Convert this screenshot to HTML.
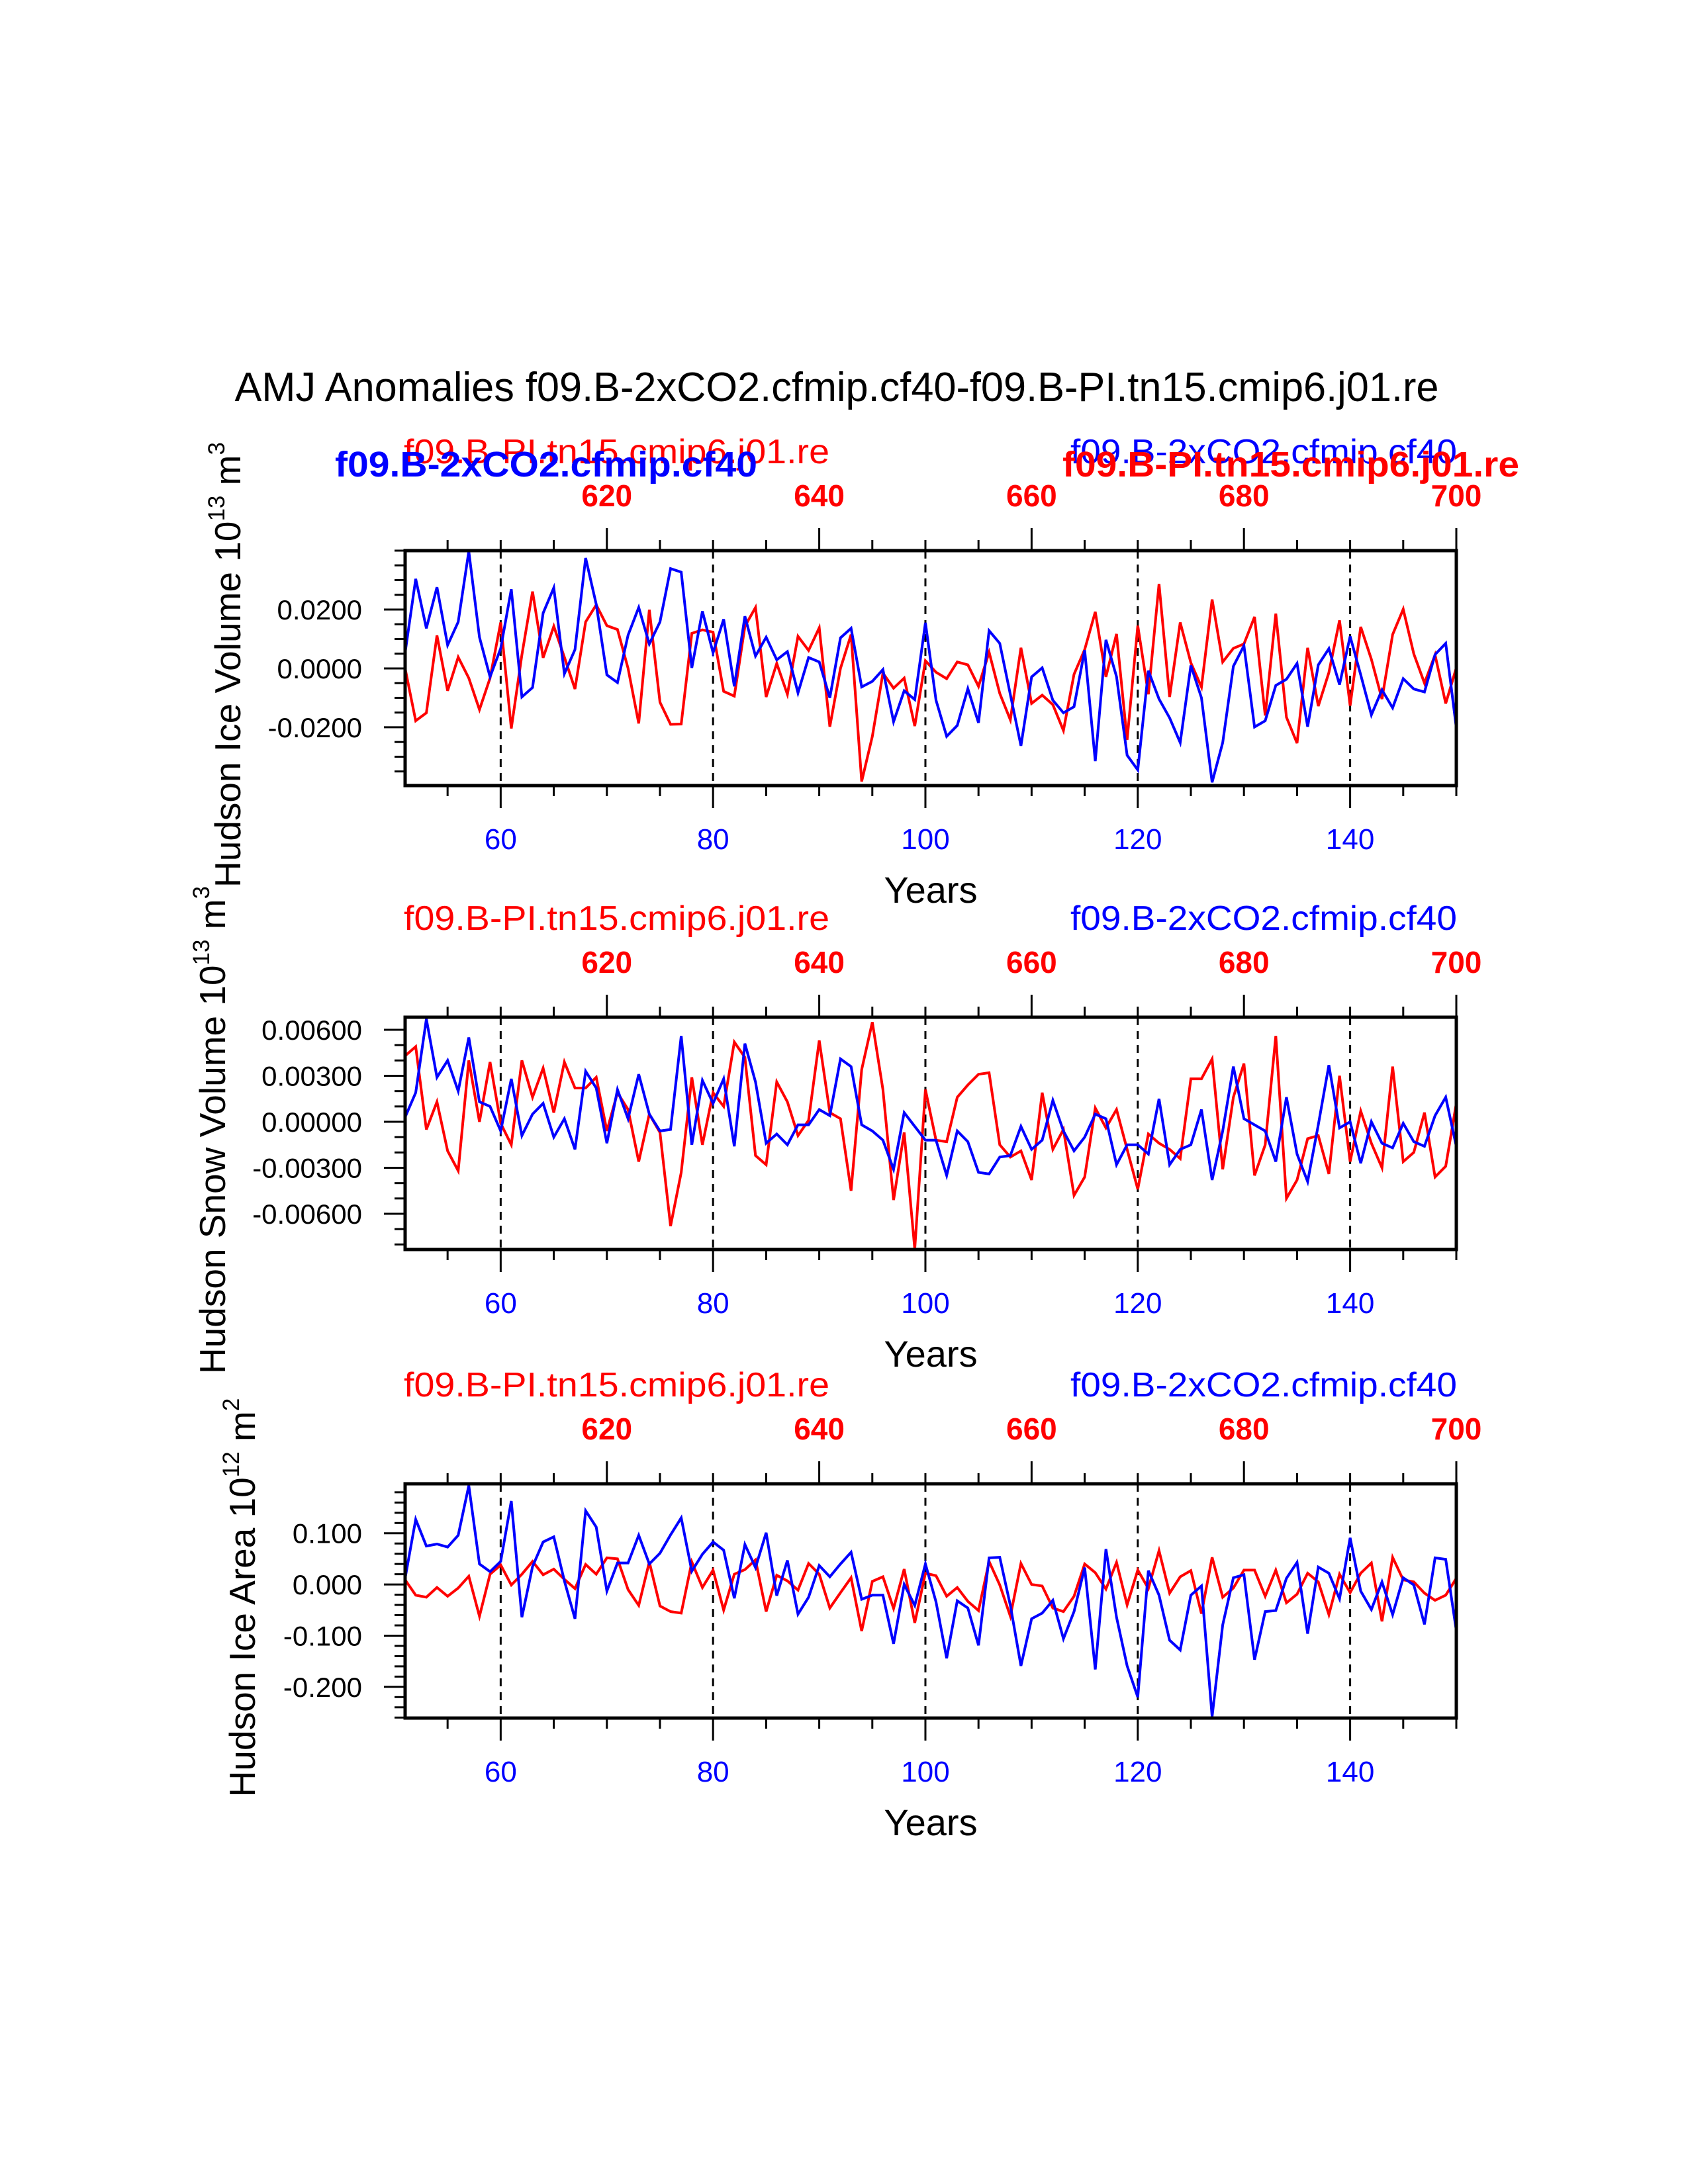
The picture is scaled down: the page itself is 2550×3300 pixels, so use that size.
<!DOCTYPE html>
<html><head><meta charset="utf-8"><title>AMJ Anomalies</title>
<style>html,body{margin:0;padding:0;background:#fff}svg{display:block}text{font-family:"Liberation Sans",Arial,sans-serif}</style>
</head><body>
<svg id="chart" xmlns="http://www.w3.org/2000/svg" width="2550" height="3300" viewBox="0 0 2550 3300">
<rect x="0" y="0" width="2550" height="3300" fill="#fff"/>
<text x="1264" y="606" font-size="62" text-anchor="middle" textLength="1819" lengthAdjust="spacingAndGlyphs">AMJ Anomalies f09.B-2xCO2.cfmip.cf40-f09.B-PI.tn15.cmip6.j01.re</text>
</svg>
<script>
const years = [];
for (let y = 51; y <= 150; y++) years.push(y);
const bottomTickLabels = ["60","80","100","120","140"];
const topTickLabels = ["620","640","660","680","700"];
const iceVolBlue = [0.0053,0.0304,0.0136,0.0276,0.0079,0.0158,0.0398,0.0106,-0.0029,0.0068,
0.0269,-0.0097,-0.0065,0.0188,0.0274,-0.0018,0.0064,0.0375,0.0218,-0.0022,
-0.0048,0.0113,0.0207,0.0083,0.0158,0.0339,0.0327,0.0002,0.0194,0.0053,
0.0167,-0.0061,0.0177,0.0042,0.0106,0.0029,0.0057,-0.0083,0.0037,0.0022,
-0.0100,0.0104,0.0136,-0.0063,-0.0044,-0.0004,-0.0181,-0.0076,-0.0106,0.0155,
-0.0108,-0.0231,-0.0194,-0.0069,-0.0185,0.0128,0.0085,-0.0089,-0.0263,-0.0029,
0.0002,-0.0108,-0.0151,-0.0130,0.0062,-0.0315,0.0097,-0.0028,-0.0295,-0.0345,
-0.0008,-0.0104,-0.0168,-0.0252,0.0010,-0.0100,-0.0387,-0.0252,0.0007,0.0077,
-0.0199,-0.0178,-0.0058,-0.0037,0.0017,-0.0198,0.0012,0.0067,-0.0055,0.0109,
-0.0022,-0.0158,-0.0073,-0.0134,-0.0035,-0.0070,-0.0080,0.0047,0.0085,-0.0202];
const iceVolRed = [0.0,-0.0178,-0.0151,0.0112,-0.0076,0.0038,-0.0033,-0.0140,-0.0033,0.0156,
-0.0204,0.0046,0.0261,0.0036,0.0143,0.0038,-0.0070,0.0158,0.0216,0.0145,
0.0132,0.0,-0.0187,0.0199,-0.0115,-0.0190,-0.0189,0.0119,0.0131,0.0123,
-0.0078,-0.0094,0.0143,0.0207,-0.0097,0.0017,-0.0088,0.0109,0.0061,0.0138,
-0.0198,0.0,0.0115,-0.0384,-0.0231,-0.0016,-0.0067,-0.0033,-0.0196,0.0026,
-0.0013,-0.0035,0.0022,0.0012,-0.0061,0.0055,-0.0085,-0.0175,0.0070,-0.0119,
-0.0091,-0.0123,-0.0211,-0.0020,0.0064,0.0192,-0.0029,0.0117,-0.0243,0.0145,
-0.0088,0.0287,-0.0097,0.0156,0.0019,-0.0063,0.0234,0.0022,0.0068,0.0083,
0.0175,-0.0160,0.0186,-0.0166,-0.0254,0.0070,-0.0128,-0.0014,0.0163,-0.0127,
0.0141,0.0031,-0.0104,0.0115,0.0201,0.0049,-0.0050,0.0046,-0.0119,0.0002];
const snowVolBlue = [0.0003,0.0019,0.0067,0.0029,0.0040,0.0020,0.0055,0.0013,0.0010,-0.0006,
0.0028,-0.0009,0.0005,0.0012,-0.0010,0.0002,-0.0018,0.0033,0.0022,-0.0014,
0.0021,0.0002,0.0031,0.0005,-0.0006,-0.0005,0.0056,-0.0015,0.0027,0.0012,
0.0028,-0.0016,0.0051,0.0026,-0.0014,-0.0008,-0.0015,-0.0002,-0.0002,0.0008,
0.0004,0.0041,0.0036,-0.0002,-0.0006,-0.0012,-0.0031,0.0006,-0.0003,-0.0012,
-0.0012,-0.0035,-0.0006,-0.0013,-0.0033,-0.0034,-0.0023,-0.0022,-0.0003,-0.0018,
-0.0012,0.0014,-0.0006,-0.0019,-0.0010,0.0005,0.0002,-0.0028,-0.0015,-0.0015,
-0.0021,0.0015,-0.0028,-0.0018,-0.0015,0.0008,-0.0038,-0.0006,0.0036,0.0002,
-0.0002,-0.0006,-0.0026,0.0016,-0.0021,-0.0039,-0.0002,0.0037,-0.0004,0.0,
-0.0027,0.0,-0.0014,-0.0017,-0.0001,-0.0013,-0.0016,0.0004,0.0016,-0.0016];
const snowVolRed = [0.0043,0.0049,-0.0005,0.0013,-0.0019,-0.0032,0.0040,0.0,0.0039,-0.0001,
-0.0015,0.0040,0.0016,0.0035,0.0006,0.0039,0.0022,0.0022,0.0029,-0.0006,
0.0019,0.0008,-0.0026,0.0005,-0.0007,-0.0068,-0.0033,0.0029,-0.0015,0.0019,
0.0010,0.0052,0.0042,-0.0022,-0.0028,0.0026,0.0013,-0.0009,0.0001,0.0053,
0.0006,0.0002,-0.0045,0.0034,0.0065,0.0021,-0.0051,-0.0007,-0.0083,0.0021,
-0.0012,-0.0013,0.0016,0.0024,0.0031,0.0032,-0.0015,-0.0023,-0.0019,-0.0038,
0.0019,-0.0018,-0.0005,-0.0048,-0.0036,0.0009,-0.0004,0.0008,-0.0018,-0.0044,
-0.0008,-0.0014,-0.0018,-0.0024,0.0028,0.0028,0.0041,-0.0031,0.0016,0.0038,
-0.0035,-0.0015,0.0056,-0.0050,-0.0038,-0.0011,-0.0009,-0.0034,0.0030,-0.0026,
0.0007,-0.0014,-0.0030,0.0036,-0.0026,-0.0020,0.0006,-0.0036,-0.0029,0.0012];
const iceAreaBlue = [0.012,0.127,0.075,0.079,0.073,0.096,0.193,0.040,0.025,0.045,
0.163,-0.064,0.035,0.083,0.093,0.007,-0.067,0.144,0.112,-0.013,
0.042,0.042,0.096,0.040,0.061,0.097,0.130,0.026,0.059,0.083,
0.067,-0.027,0.078,0.033,0.101,-0.022,0.047,-0.058,-0.025,0.037,
0.015,0.040,0.063,-0.029,-0.021,-0.021,-0.116,0.0,-0.041,0.040,
-0.034,-0.144,-0.032,-0.046,-0.119,0.052,0.053,-0.041,-0.159,-0.067,
-0.056,-0.031,-0.106,-0.053,0.033,-0.166,0.069,-0.064,-0.159,-0.220,
0.027,-0.021,-0.109,-0.128,-0.021,-0.003,-0.258,-0.079,0.013,0.019,
-0.147,-0.053,-0.051,0.012,0.043,-0.096,0.034,0.022,-0.028,0.091,
-0.013,-0.049,0.005,-0.059,0.013,-0.001,-0.078,0.052,0.049,-0.090];
const iceAreaRed = [0.009,-0.021,-0.025,-0.006,-0.023,-0.007,0.016,-0.062,0.020,0.038,
-0.001,0.020,0.045,0.019,0.030,0.010,-0.008,0.039,0.020,0.052,
0.050,-0.010,-0.041,0.044,-0.042,-0.053,-0.056,0.044,-0.006,0.028,
-0.050,0.020,0.029,0.048,-0.053,0.018,0.007,-0.011,0.041,0.020,
-0.046,-0.016,0.013,-0.091,0.006,0.015,-0.047,0.030,-0.075,0.022,
0.017,-0.023,-0.006,-0.033,-0.051,0.045,-0.001,-0.062,0.041,0.0,
-0.003,-0.046,-0.053,-0.023,0.040,0.023,-0.009,0.043,-0.040,0.028,
-0.008,0.066,-0.017,0.015,0.027,-0.057,0.053,-0.025,-0.007,0.028,
0.028,-0.023,0.028,-0.036,-0.019,0.022,0.005,-0.059,0.020,-0.016,
0.022,0.042,-0.072,0.053,0.009,0.005,-0.017,-0.031,-0.021,0.012];
const iceVolTicks = [0.02, 0, -0.02];
const iceVolTickLabels = ["0.0200","0.0000","-0.0200"];
const snowVolTicks = [0.006, 0.003, 0, -0.003, -0.006];
const snowVolTickLabels = ["0.00600","0.00300","0.00000","-0.00300","-0.00600"];
const iceAreaTicks = [0.1, 0, -0.1, -0.2];
const iceAreaTickLabels = ["0.100","0.000","-0.100","-0.200"];

const NS = "http://www.w3.org/2000/svg";
const svg = document.getElementById("chart");
const X0 = 612, X1 = 2200, YMIN = 51, YMAX = 150;
function xScale(yr){ return X0 + (yr - YMIN) * (X1 - X0) / (YMAX - YMIN); }
function mk(tag, attrs, parent){
  const e = document.createElementNS(NS, tag);
  for (const k in attrs) e.setAttribute(k, attrs[k]);
  (parent || svg).appendChild(e);
  return e;
}

const panels = [
  {key:"ice-volume", top:832, bottom:1187, vmin:-0.0398, vmax:0.040, minor:0.005, blue:iceVolBlue, red:iceVolRed,
   ticks:iceVolTicks, tickLabels:iceVolTickLabels, title:["Hudson Ice Volume 10","13"," m","3"], titleX:363, extraHeaders:true},
  {key:"snow-volume", top:1537, bottom:1888, vmin:-0.00833, vmax:0.00682, minor:0.001, blue:snowVolBlue, red:snowVolRed,
   ticks:snowVolTicks, tickLabels:snowVolTickLabels, title:["Hudson Snow Volume 10","13"," m","3"], titleX:340, extraHeaders:false},
  {key:"ice-area", top:2242, bottom:2596, vmin:-0.261, vmax:0.1966, minor:0.02, blue:iceAreaBlue, red:iceAreaRed,
   ticks:iceAreaTicks, tickLabels:iceAreaTickLabels, title:["Hudson Ice Area 10","12"," m","2"], titleX:385, extraHeaders:false}
];

panels.forEach((p, pi) => {
  const g = mk("g", {});
  
  
  const yScale = v => p.bottom - (v - p.vmin) * (p.bottom - p.top) / (p.vmax - p.vmin);
  const clipId = "clip" + pi;
  const cp = mk("clipPath", {id: clipId}, g);
  mk("rect", {x:X0, y:p.top, width:X1-X0, height:p.bottom-p.top}, cp);

  [60,80,100,120,140].forEach(yr => {
    const l = mk("line", {x1:xScale(yr), x2:xScale(yr), y1:p.top, y2:p.bottom, stroke:"#000", "stroke-width":3, "stroke-dasharray":"12 9"}, g);
    
    
  });

  const mkLine = (vals, color, name) => {
    const d = vals.map((v, i) => (i ? "L" : "M") + xScale(years[i]).toFixed(1) + " " + yScale(v).toFixed(1)).join("");
    const path = mk("path", {d:d, fill:"none", stroke:color, "stroke-width":4, "stroke-linejoin":"miter", "clip-path":"url(#" + clipId + ")"}, g);
    
    
  };
  mkLine(p.red, "#ff0000", p.key + "-pi-series");
  mkLine(p.blue, "#0000ff", p.key + "-2xco2-series");

  const fr = mk("rect", {x:X0, y:p.top, width:X1-X0, height:p.bottom-p.top, fill:"none", stroke:"#000", "stroke-width":5}, g);
  
  

  for (let yr = 55; yr <= 150; yr += 5) {
    const x = xScale(yr);
    const bMajor = (yr % 20 === 0);
    mk("line", {x1:x, x2:x, y1:p.bottom, y2:p.bottom + (bMajor ? 34 : 16), stroke:"#000", "stroke-width":3}, g);
    const tMajor = ((yr - 70) % 20 === 0) && yr >= 70;
    mk("line", {x1:x, x2:x, y1:p.top, y2:p.top - (tMajor ? 34 : 16), stroke:"#000", "stroke-width":3}, g);
  }
  bottomTickLabels.forEach((lab, i) => {
    const t = mk("text", {x:xScale(60 + 20*i), y:p.bottom + 96, "font-size":44, fill:"#0000ff", "text-anchor":"middle"}, g);
    t.textContent = lab;
    
    
  });
  topTickLabels.forEach((lab, i) => {
    const t = mk("text", {x:xScale(70 + 20*i), y:p.top - 67, "font-size":46, "font-weight":"bold", fill:"#ff0000", "text-anchor":"middle"}, g);
    t.textContent = lab;
    
    
  });

  const nMin = Math.ceil(p.vmin / p.minor - 1e-6), nMax = Math.floor(p.vmax / p.minor + 1e-6);
  for (let n = nMin; n <= nMax; n++) {
    const v = n * p.minor;
    const major = p.ticks.some(t => Math.abs(t - v) < p.minor / 10);
    const y = yScale(v);
    mk("line", {x1:X0, x2:X0 - (major ? 32 : 16), y1:y, y2:y, stroke:"#000", "stroke-width":3}, g);
  }
  p.ticks.forEach((v, i) => {
    const t = mk("text", {x:547, y:yScale(v) + 15, "font-size":42, "text-anchor":"end", fill:"#000"}, g);
    t.textContent = p.tickLabels[i];
    
    
  });

  const cy = (p.top + p.bottom) / 2 - 5;
  const yt = mk("text", {x:0, y:0, "font-size":55, "text-anchor":"middle", fill:"#000",
    transform:"translate(" + p.titleX + "," + cy + ") rotate(-90)"}, g);
  
  
  const parts = p.title;
  const s1 = mk("tspan", {}, yt); s1.textContent = parts[0];
  const s2 = mk("tspan", {"font-size":35, dy:-24}, yt); s2.textContent = parts[1];
  const s3 = mk("tspan", {dy:24}, yt); s3.textContent = parts[2];
  const s4 = mk("tspan", {"font-size":35, dy:-24}, yt); s4.textContent = parts[3];

  const xt = mk("text", {x:1406, y:p.bottom + 177, "font-size":56, "text-anchor":"middle", fill:"#000"}, g);
  xt.textContent = "Years";
  
  

  const off = p.top - 832;
  const h1 = mk("text", {x:610, y:700 + off, "font-size":52, fill:"#ff0000", textLength:643, lengthAdjust:"spacingAndGlyphs"}, g);
  h1.textContent = "f09.B-PI.tn15.cmip6.j01.re";
  
  
  const h2 = mk("text", {x:1617, y:700 + off, "font-size":52, fill:"#0000ff", textLength:584, lengthAdjust:"spacingAndGlyphs"}, g);
  h2.textContent = "f09.B-2xCO2.cfmip.cf40";
  
  
  if (p.extraHeaders) {
    const h3 = mk("text", {x:506, y:720, "font-size":54, "font-weight":"bold", fill:"#0000ff", textLength:638, lengthAdjust:"spacingAndGlyphs"}, g);
    h3.textContent = "f09.B-2xCO2.cfmip.cf40";
    
    
    const h4 = mk("text", {x:1605, y:720, "font-size":54, "font-weight":"bold", fill:"#ff0000", textLength:690, lengthAdjust:"spacingAndGlyphs"}, g);
    h4.textContent = "f09.B-PI.tn15.cmip6.j01.re";
    
    
  }
});
</script>
</body></html>
